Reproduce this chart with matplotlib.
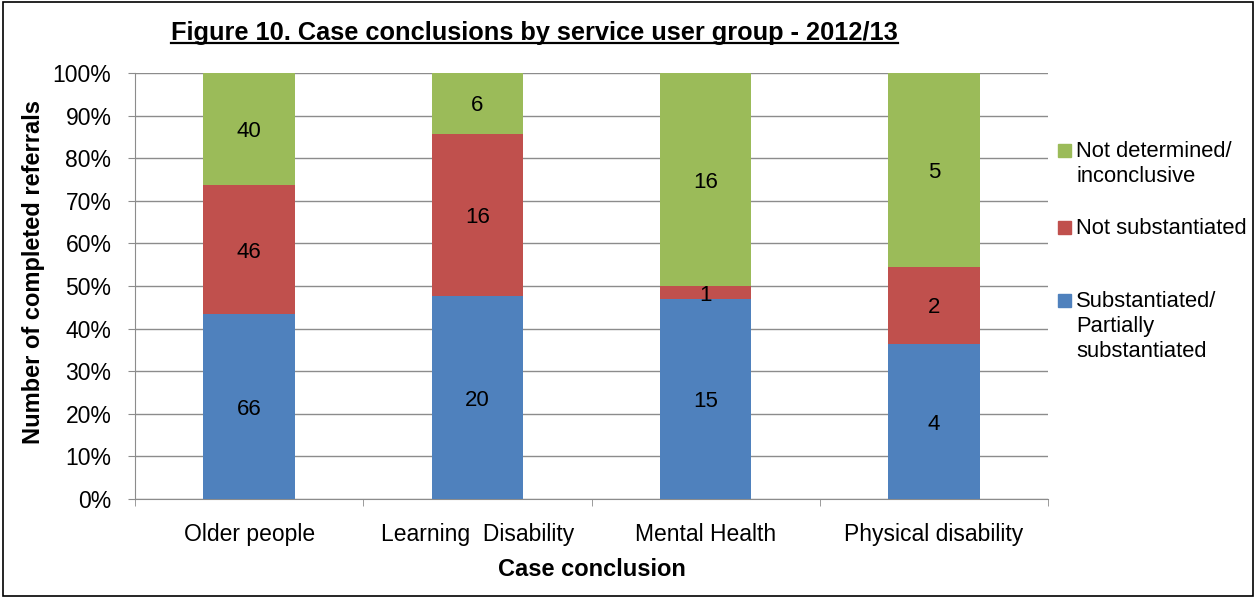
import matplotlib.pyplot as plt
import numpy as np
from matplotlib.lines import Line2D
from matplotlib.patches import Rectangle

plt.rcParams['font.family'] = ['Liberation Sans', 'DejaVu Sans']

groups = ['Older people', 'Learning  Disability', 'Mental Health', 'Physical disability']
substantiated = [66, 20, 15, 4]
not_substantiated = [46, 16, 1, 2]
not_determined = [40, 6, 16, 5]

series = [
    ('Substantiated/\nPartially\nsubstantiated', substantiated, '#4F81BD'),
    ('Not substantiated', not_substantiated, '#C0504D'),
    ('Not determined/\ninconclusive', not_determined, '#9BBB59'),
]

totals = np.array(substantiated) + np.array(not_substantiated) + np.array(not_determined)

W, H = 1259, 598
fig = plt.figure(figsize=(W / 100, H / 100), dpi=100)
ax = fig.add_axes([135 / W, 1 - 499 / H, (1048 - 135) / W, (499 - 73) / H])

x = np.arange(len(groups))
bottom = np.zeros(len(groups))
for name, vals, col in series:
    share = np.array(vals) / totals * 100
    ax.bar(x, share, 0.4, bottom=bottom, color=col, zorder=3)
    for xi, b, s, v in zip(x, bottom, share, vals):
        ax.text(xi, b + s / 2, str(v), ha='center', va='center_baseline', fontsize=16, zorder=4)
    bottom += share

ax.set_xlim(-0.5, 3.5)
ax.set_ylim(0, 100)
ax.set_yticks(np.arange(0, 101, 10))
ax.set_yticklabels([f'{v}%' for v in range(0, 101, 10)], fontsize=16.5)
ax.yaxis.grid(True, color='#8c8c8c', linewidth=1, zorder=0)
ax.set_xticks(x)
ax.set_xticklabels(groups, fontsize=16.5)
ax.set_xticks(np.arange(-0.5, 4, 1), minor=True)
ax.tick_params(axis='x', which='major', length=0, pad=17)
ax.tick_params(axis='x', which='minor', length=5, color='#8c8c8c')
ax.tick_params(axis='y', length=5, color='#8c8c8c', pad=12)
for side in ['top', 'right']:
    ax.spines[side].set_visible(False)
for side in ['left', 'bottom']:
    ax.spines[side].set_color('#8c8c8c')

ax.set_xlabel('Case conclusion', fontsize=17, fontweight='bold', labelpad=9)
ax.set_ylabel('Number of completed referrals', fontsize=17, fontweight='bold')
ax.yaxis.set_label_coords((45 - 135) / (1048 - 135), (499 - 272) / (499 - 73))

# legend drawn entry by entry: (first-line centre y in px, colour, label)
legend_rows = [
    (150, '#9BBB59', 'Not determined/\ninconclusive'),
    (227, '#C0504D', 'Not substantiated'),
    (300, '#4F81BD', 'Substantiated/\nPartially\nsubstantiated'),
]
for yc, col, label in legend_rows:
    fig.add_artist(Rectangle((1058 / W, 1 - (yc + 7) / H), 13 / W, 13 / H,
                             color=col, transform=fig.transFigure))
    fig.text(1076 / W, 1 - (yc - 9) / H, label, ha='left', va='top',
             fontsize=15.8, linespacing=1.25)

title = fig.text(534.5 / W, 1 - 33 / H, 'Figure 10. Case conclusions by service user group - 2012/13',
                 ha='center', va='center', fontsize=18.3, fontweight='bold')

# underline the title
fig.canvas.draw()
bb = title.get_window_extent().transformed(fig.transFigure.inverted())
fig.add_artist(Line2D([bb.x0, bb.x1], [bb.y0 + 0.003, bb.y0 + 0.003], color='black',
                      linewidth=1.6, transform=fig.transFigure))

# outer frame
fig.add_artist(Rectangle((3 / W, 2 / H), 1250 / W, 594 / H, fill=False, edgecolor='black',
                         linewidth=1.2, transform=fig.transFigure))

fig.savefig('out.png', dpi=100)
